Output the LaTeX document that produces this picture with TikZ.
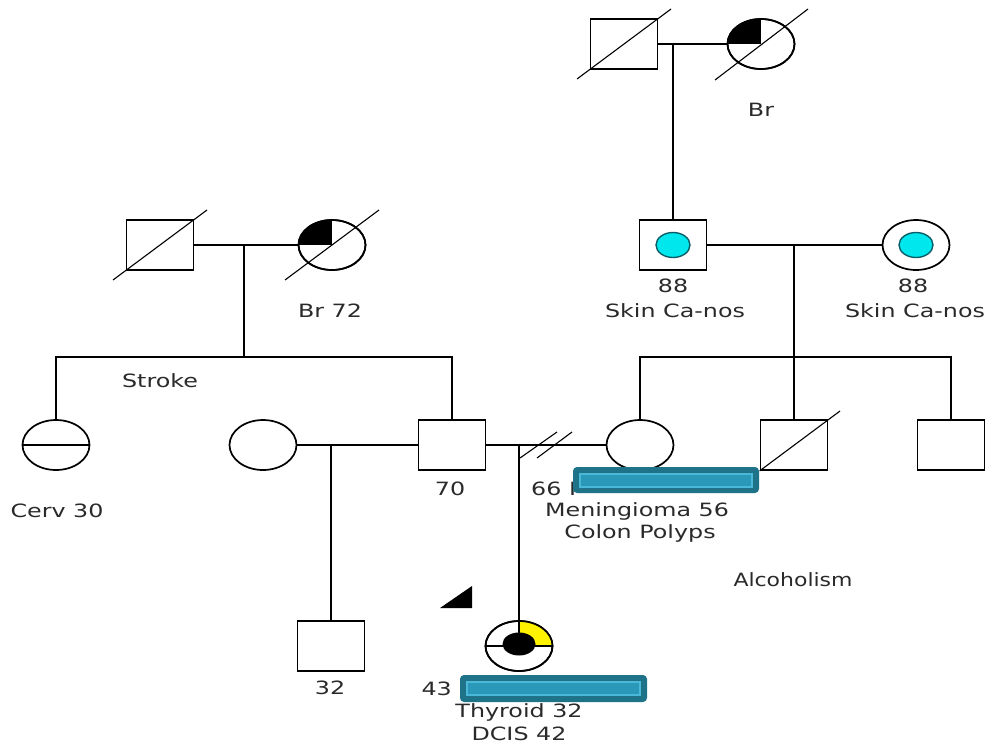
\documentclass[tikz,border=0pt]{standalone}
\usepackage{fontspec}
\usetikzlibrary{shapes.geometric}
\newfontfamily\lab[FakeStretch=1.3]{DejaVu Sans}
\newfontfamily\labn[FakeStretch=1.2]{DejaVu Sans}
\definecolor{txt}{HTML}{2A2A2A}
\definecolor{tealdark}{HTML}{1E7389}
\definecolor{tealmid}{HTML}{2A98B8}
\definecolor{teallight}{HTML}{4BB8D8}
\definecolor{cyanfill}{HTML}{00E8EE}
\definecolor{cyanline}{HTML}{0A5E68}
\definecolor{yel}{HTML}{FFF200}
\tikzset{
  ln/.style={line width=1.7pt, black},
  dline/.style={line width=1.1pt, black},
  male/.style={draw, line width=1.7pt, rectangle, minimum width=67pt, minimum height=50pt, inner sep=0pt, fill=white},
  female/.style={draw, line width=1.7pt, ellipse, minimum width=67pt, minimum height=50pt, inner sep=0pt, fill=white},
  lbl/.style={text=txt, font=\lab\fontsize{18.3}{20}\selectfont, inner sep=0pt},
  lbln/.style={text=txt, font=\labn\fontsize{18.3}{20}\selectfont, inner sep=0pt},
  cyandot/.style={draw=cyanline, line width=1.4pt, fill=cyanfill, ellipse, minimum width=34pt, minimum height=25pt, inner sep=0pt},
  barout/.style={fill=tealdark, rounded corners=4pt},
  barin/.style={fill=tealmid, draw=teallight, line width=1.5pt}
}
\begin{document}
\begin{tikzpicture}[x=1pt,y=-1pt]
\useasboundingbox[fill=white] (0,0) rectangle (992,745);

% generation I
\node[male] (gf1) at (624,44) {};
\node[female] (gm1) at (761,44) {};
\node[male] (gf2) at (160,245) {};
\node[female] (gm2) at (332,245) {};
\begin{scope}
  \clip (gm1.center) ellipse [x radius=33.5pt, y radius=25pt];
  \fill (gm1.center) rectangle (720,10);
\end{scope}
\draw[ln] (gm1.center) ellipse [x radius=33.5pt, y radius=25pt];
\begin{scope}
  \clip (gm2.center) ellipse [x radius=33.5pt, y radius=25pt];
  \fill (gm2.center) rectangle (290,210);
\end{scope}
\draw[ln] (gm2.center) ellipse [x radius=33.5pt, y radius=25pt];
\draw[dline] (577,79) -- (671,9);
\draw[dline] (715,80) -- (808,9);
\draw[dline] (113,280) -- (207,210);
\draw[dline] (285,280) -- (379,210);

\coordinate (m1) at (673,44);
\coordinate (m2) at (244,245);
\draw[ln] (gf1) -- (gm1);
\draw[ln] (gf2) -- (gm2);

% generation II (right couple)
\node[male] (rf) at (673,245) {};
\node[female] (rm) at (916,245) {};
\node[cyandot] (rfd) at (673,245) {};
\node[cyandot] (rmd) at (916,245) {};
\draw[ln] (m1) -- (rf.north);
\draw[ln] (rf) -- (rm);
\coordinate (mR) at (794,245);

% siblings left
\node[female] (cerv) at (56,445) {};
\draw[ln] (cerv.west) -- (cerv.east);
\node[male] (p70) at (452,445) {};
\coordinate (sibL) at (244,357);
\draw[ln] (m2) -- (sibL);
\draw[ln] (cerv.north) |- (sibL) -| (p70.north);

% siblings right
\node[female] (men) at (640,445) {};
\node[male] (dec) at (794,445) {};
\node[male] (bro) at (951,445) {};
\coordinate (sibR) at (794,357);
\draw[ln] (mR) -- (dec.north);
\draw[ln] (men.north) |- (sibR) -| (bro.north);
\draw[dline] (dec.south west) -- (840,411);

% spouse and couples
\node[female] (wife) at (263,445) {};
\draw[ln] (wife) -- (p70);
\draw[ln] (p70) -- (men);
\coordinate (c2) at (331,445);
\coordinate (c1) at (519,445);
\draw[dline] (520,458) -- (557,432);
\draw[dline] (537,458) -- (572,432);

% generation III
\node[male] (s32) at (331,646) {};
\draw[ln] (c2) -- (s32.north);
\node[female] (prob) at (519,646) {};
\draw[ln] (c1) -- (prob.north);
\begin{scope}
  \clip (prob.center) ellipse [x radius=33.5pt, y radius=25pt];
  \fill[yel] (prob.center) rectangle (560,615);
\end{scope}
\draw[ln] (prob.center) ellipse [x radius=33.5pt, y radius=25pt];
\draw[ln] (prob.west) -- (prob.east);
\draw[ln] (prob.north) -- (prob.center);
\node[fill=black, ellipse, minimum width=33pt, minimum height=23pt, inner sep=0pt] (probd) at (519,644) {};
\fill (440,608) -- (472,608) -- (472,586) -- cycle;

% labels
\node[lbl] (t1) at (761,110) {Br};
\node[lbl] (t2) at (330,311) {Br 72};
\node[lbl] (t3) at (673,286) {88};
\node[lbl] (t4) at (675,311) {Skin Ca-nos};
\node[lbl] (t5) at (913,286) {88};
\node[lbl] (t6) at (915,311) {Skin Ca-nos};
\node[lbl] (t7) at (160,381) {Stroke};
\node[lbl] (t8) at (57,511) {Cerv 30};
\node[lbl] (t9) at (450,489) {70};
\node[lbl, anchor=west] (t10) at (531,489) {66 F};
\node[lbl] (t11) at (637,511) {Meningioma 56};
\node[lbl] (t12) at (640,533) {Colon Polyps};
\node[lbln] (t13) at (793,580) {Alcoholism};
\node[lbl] (t14) at (330,688) {32};
\node[lbl, anchor=east] (t15) at (452,689) {43};
\node[lbl] (t16) at (519,712) {Thyroid 32};
\node[lbl] (t17) at (519,734) {DCIS 42};

% overlay bars
\fill[barout] (573,467) rectangle (759,493);
\draw[barin] (580,474) rectangle (752,487);
\fill[barout] (460,675) rectangle (647,702);
\draw[barin] (467,682) rectangle (640,695);
\end{tikzpicture}
\end{document}
